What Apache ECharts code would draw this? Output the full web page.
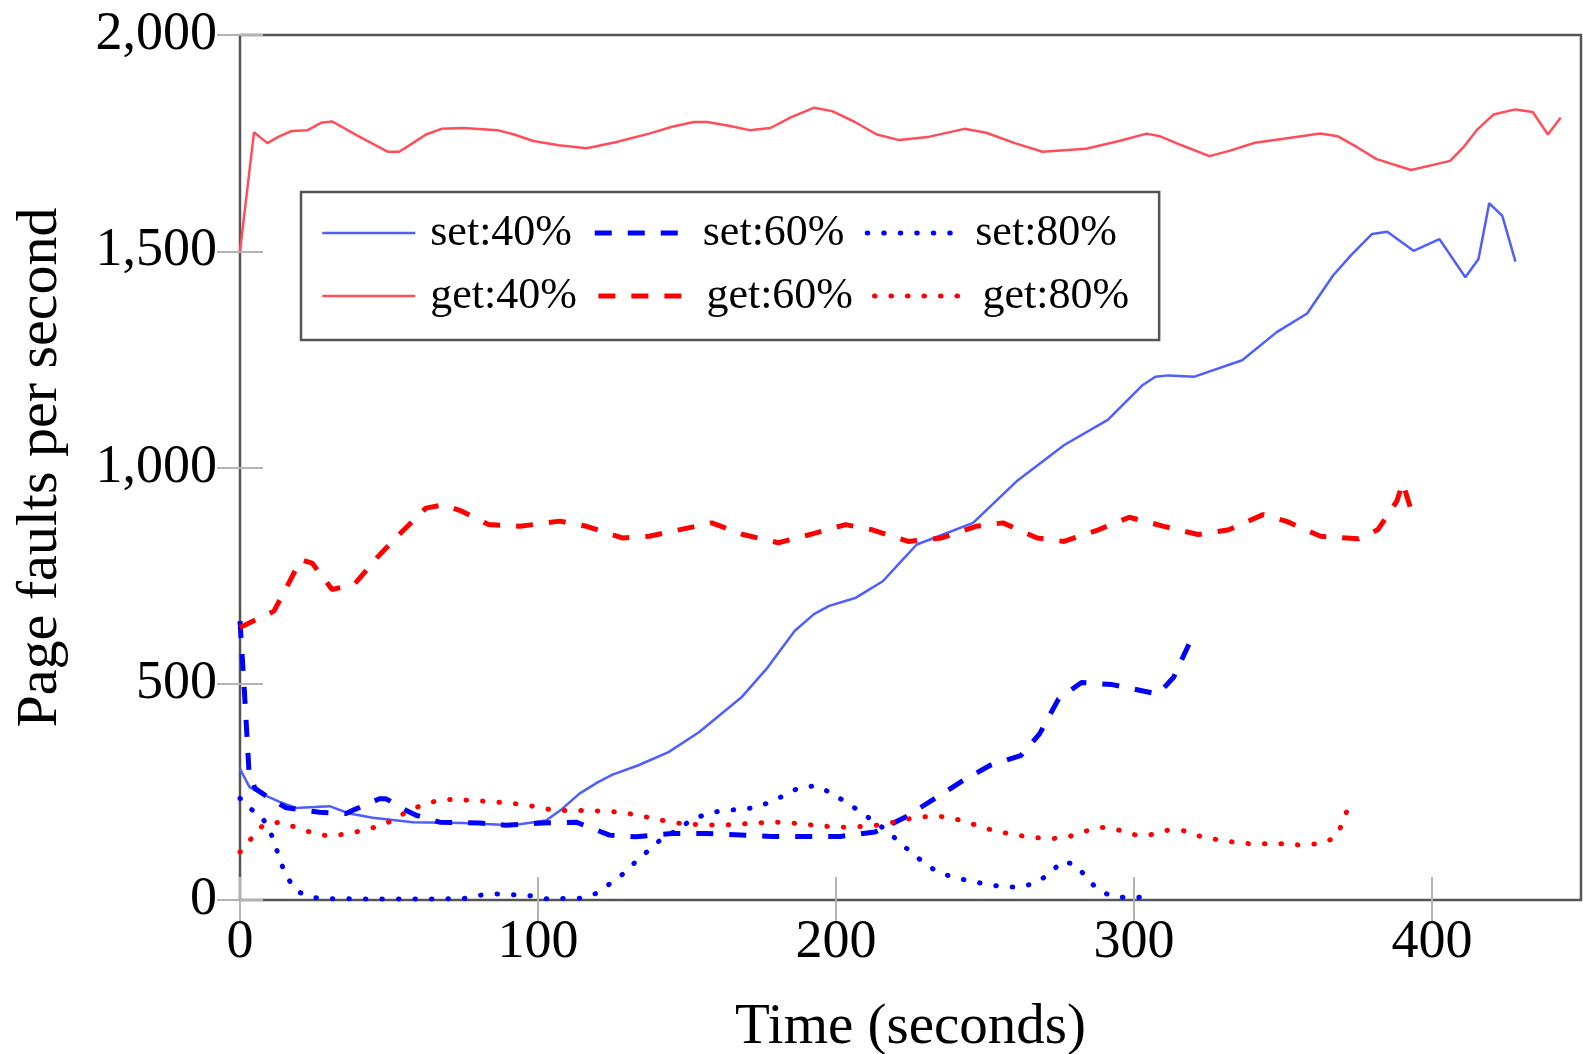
<!DOCTYPE html>
<html>
<head>
<meta charset="utf-8">
<script src="https://cdn.jsdelivr.net/npm/echarts@6/dist/echarts.min.js"></script>
<style>
  html, body { margin: 0; padding: 0; background: #fff; }
  #container { width: 1583px; height: 1054px; }
</style>
</head>
<body>
<div id="container"></div>
<script>
var xTicks = [0, 100, 200, 300, 400];
var yTicks = [0, 500, 1000, 1500, 2000];

var seriesNames = ['set:40%', 'set:60%', 'set:80%', 'get:40%', 'get:60%', 'get:80%'];

// [time (s), page faults per second]
var set40 = [[0,303],[3.2,261],[7.1,246],[13.3,227],[18.9,213],[25,215],[30,217],[36.7,200],[44.6,190],[58,180],
  [74.8,178],[91.5,173],[102.7,184],[108,210],[113.9,246],[120,272],[125,290],[133.5,311],[143.8,342],[154,388],
  [168.2,468],[177.1,538],[186.1,622],[192.6,661],[197.7,680],[206.7,699],[215.7,737],[221.3,779],[227.1,822],
  [234.4,841],[246,872],[260.6,968],[276.6,1052],[291.2,1110],[302.8,1190],[307.2,1210],[311.5,1213],[320.3,1210],
  [336.3,1248],[347.9,1313],[358.1,1356],[366.8,1444],[372.7,1490],[379.9,1540],[385,1545],[393.8,1501],
  [402.5,1528],[411.2,1440],[415.6,1482],[419.2,1611],[423.6,1582],[428,1476]];

var set60 = [[0,645],[1.5,480],[3,300],[5,258],[10,235],[15.5,213],[26.7,203],[35.6,200],[38.4,209],[46.8,234],
  [49,234],[55.8,207],[59.1,196],[67,180],[80.4,178],[89.3,173],[101.6,178],[112.8,180],[124,150],[133,146],
  [145,154],[156.6,154],[178.4,147],[201.5,147],[213.1,157],[223.4,192],[242.6,276],[251.6,311],[262,334],
  [268.3,384],[274.7,465],[282.4,503],[292.7,498],[308.1,476],[313.3,515],[319.7,610]];

var set80 = [[0,235],[2.6,215],[7.1,194],[9.9,163],[11.9,125],[13.6,88],[15.7,54],[18.9,21],[23.9,6],[29.5,3],
  [50,2],[74.8,3],[80.4,11],[86,14],[91.6,12],[97.2,10],[102.7,3],[113.9,4],[119.5,15],[124,37],[128.5,60],
  [132.4,86],[136.5,111],[140.9,138],[145.5,157],[150.4,180],[155.3,196],[161.1,206],[166.6,209],[172.2,213],
  [177.5,225],[182.7,242],[187.7,260],[193.2,264],[198.3,248],[203.1,227],[207.8,206],[212.2,184],[217,161],
  [221.2,134],[225.5,109],[229.8,84],[234.6,63],[239.8,52],[245.5,43],[251,36],[256.5,30],[261.9,30],[267.4,40],
  [271.9,63],[276,90],[280.5,81],[284.1,52],[287.9,23],[292.9,8],[298.9,5],[304.5,8]];

var get40 = [[0,1500],[4.7,1775],[9.2,1750],[13,1765],[17.4,1778],[22.7,1780],[27.2,1797],[31,1800],[40,1765],
  [49.7,1730],[53.4,1730],[58,1750],[62.4,1770],[67.6,1783],[75,1785],[86.4,1780],[92,1770],[98.4,1755],
  [107,1745],[116.3,1738],[126,1752],[137.3,1772],[145,1788],[152.3,1799],[156.8,1799],[164,1790],[171,1780],
  [178,1785],[185,1810],[192.7,1832],[198.7,1824],[206,1800],[213.7,1770],[221.3,1757],[231.4,1765],[243.1,1783],
  [250.4,1774],[260,1750],[269.3,1730],[283.9,1737],[295,1755],[304.3,1772],[308.6,1766],[316,1745],[325.3,1720],
  [332,1732],[340.6,1751],[352,1762],[362.5,1772],[368.3,1766],[375,1740],[381.4,1713],[393,1688],[406.1,1709],
  [410.5,1740],[415,1780],[420.6,1816],[428,1828],[433.8,1822],[438.9,1770],[443.2,1809]];

var get60 = [[0,630],[11.4,668],[16.7,737],[20.4,787],[24.2,779],[30.9,718],[38.4,730],[45.9,791],[53.4,845],
  [62.4,906],[68.4,914],[74.4,899],[83.4,868],[93.9,864],[107.4,876],[116.3,864],[128.3,837],[137.3,841],
  [158.3,872],[168.8,845],[180.7,826],[191.2,845],[203.2,868],[212.2,856],[224.2,829],[235.4,837],[247,864],
  [256,872],[267.5,837],[276.5,829],[288.1,856],[298.4,885],[310,864],[321.5,845],[331.8,856],[343.3,891],
  [351,876],[362.6,841],[375.4,835],[381.8,856],[388.2,922],[390.2,964],[394,879]];

var get80 = [[0,111],[3.8,142],[7.7,173],[13.3,180],[18.3,169],[23.9,156],[29.5,148],[35.1,152],[40.7,160],
  [45.7,169],[51.3,184],[55.8,203],[60.8,219],[66.4,230],[72,233],[77.6,230],[83.2,228],[88.8,225],[94.4,221],
  [99.9,215],[105.5,207],[116.7,207],[127.9,203],[133.5,196],[139.1,188],[144.7,180],[150.2,175],[161.5,173],
  [166.9,175],[178.4,180],[184,179],[189.7,175],[195.1,171],[203,168],[211.8,171],[217.6,177],[223.1,186],
  [228.5,192],[234.3,194],[239.8,188],[245.2,177],[250.6,165],[256.1,156],[261.6,149],[267,144],[272.8,142],
  [278.4,147],[283.7,159],[289.1,168],[294.7,162],[300.2,151],[305.6,151],[311.2,161],[316.7,160],[322.3,147],
  [327.6,140],[333.2,134],[338.8,130],[350,130],[355.9,127],[361.5,130],[366.7,141],[369.5,170],[371.5,207]];

var FONT = '"Liberation Serif", "DejaVu Serif", serif';
var SOLID_BLUE = '#4e5eff', BLUE = '#0000ff', SOLID_RED = '#ff4e5a', RED = '#ff0000';
var DASH = [17, 16], DOT = [0.5, 16];

var dom = document.getElementById('container');
var myChart = echarts.init(dom);

function lineSeries(name, data, color, width, type) {
    return {
        name: name,
        type: 'line',
        data: data,
        symbol: 'none',
        showSymbol: false,
        animation: false,
        itemStyle: { color: color },
        lineStyle: { color: color, width: width, type: type, cap: type === DOT ? 'round' : 'butt' },
        emphasis: { disabled: true }
    };
}

function ticks(values) {
    return { inside: true, length: 23, customValues: values, lineStyle: { color: '#b3b3b3', width: 2 } };
}

function fmtThousands(v) {
    return String(v).replace(/\B(?=(\d{3})+(?!\d))/g, ',');
}

var option = {
    backgroundColor: '#fff',
    grid: {
        left: 240, top: 35, right: 2, bottom: 154,
        outerBoundsMode: 'none', containLabel: false,
        show: true, borderColor: '#555', borderWidth: 2.5, backgroundColor: 'transparent'
    },
    legend: {
        data: seriesNames,
        left: 301, top: 192,
        width: 880,
        orient: 'horizontal',
        padding: [19, 30, 22, 20],
        itemWidth: 93, itemHeight: 14, itemGap: 19,
        borderColor: '#555', borderWidth: 2.5, backgroundColor: '#fff',
        selectedMode: false,
        lineStyle: { width: 'inherit' },
        itemStyle: { opacity: 0, color: 'rgba(0,0,0,0)', borderWidth: 0 },
        textStyle: { fontFamily: FONT, fontSize: 44, color: '#000', lineHeight: 42, width: 143, padding: [0, 0, 0, 10] }
    },
    xAxis: [{
        type: 'value', min: 0, max: 450, interval: 100,
        axisLine: { show: false }, axisTick: ticks(xTicks), splitLine: { show: false },
        axisLabel: {
            fontFamily: FONT, fontSize: 54, color: '#000', margin: 16, customValues: xTicks,
            formatter: function (v) { return xTicks.indexOf(v) >= 0 ? String(v) : ''; }
        },
        name: 'Time (seconds)', nameLocation: 'middle', nameGap: 100,
        nameTextStyle: { fontFamily: FONT, fontSize: 57, color: '#000' }
    }, {
        type: 'value', min: 0, max: 450, interval: 100, position: 'top',
        axisLine: { show: false }, axisTick: ticks(xTicks), splitLine: { show: false }, axisLabel: { show: false }
    }],
    yAxis: [{
        type: 'value', min: 0, max: 2000, interval: 500,
        axisLine: { show: false }, axisTick: ticks(yTicks), splitLine: { show: false },
        axisLabel: {
            fontFamily: FONT, fontSize: 54, color: '#000', margin: 23, customValues: yTicks,
            formatter: function (v) { return yTicks.indexOf(v) >= 0 ? fmtThousands(v) : ''; }
        },
        name: 'Page faults per second', nameLocation: 'middle', nameGap: 170, nameRotate: 90,
        nameTextStyle: { fontFamily: FONT, fontSize: 58, color: '#000' }
    }, {
        type: 'value', min: 0, max: 2000, interval: 500, position: 'right',
        axisLine: { show: false }, axisTick: ticks(yTicks), splitLine: { show: false }, axisLabel: { show: false }
    }],
    series: [
        lineSeries('set:40%', set40, SOLID_BLUE, 2.5, 'solid'),
        lineSeries('set:60%', set60, BLUE, 5, DASH),
        lineSeries('set:80%', set80, BLUE, 5, DOT),
        lineSeries('get:40%', get40, SOLID_RED, 2.5, 'solid'),
        lineSeries('get:60%', get60, RED, 5, DASH),
        lineSeries('get:80%', get80, RED, 5, DOT)
    ]
};

if (option && typeof option === 'object') {
    myChart.setOption(option, true);
}
</script>
</body>
</html>
